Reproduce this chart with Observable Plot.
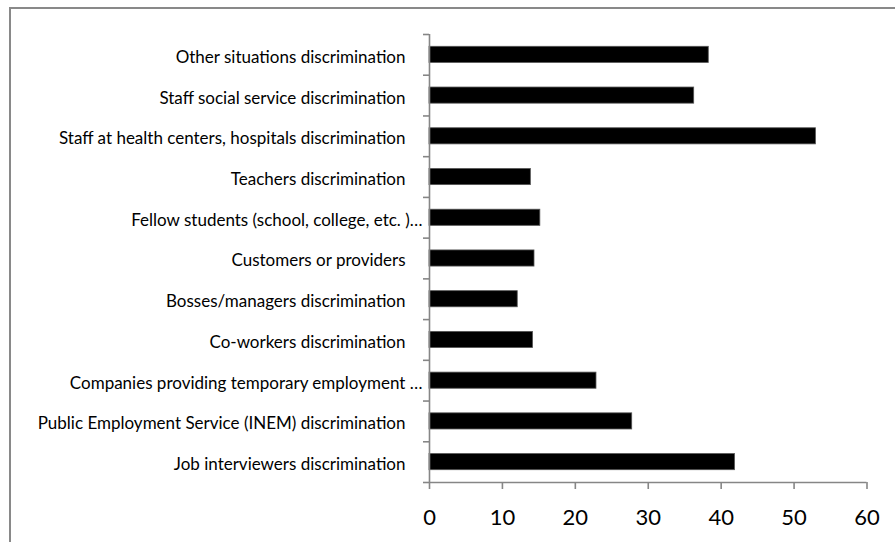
<!DOCTYPE html>
<html>
<head>
<meta charset="utf-8">
<script src="https://cdn.jsdelivr.net/npm/d3@7"></script>
<script src="https://cdn.jsdelivr.net/npm/@observablehq/plot@0.6"></script>
<style>
  html, body { margin: 0; padding: 0; background: #fff; }
  body { width: 895px; height: 542px; overflow: hidden; position: relative; }
  #frame { position: absolute; left: 9px; top: 7px; width: 900px; height: 600px;
           border-top: 2px solid #898989; border-left: 2px solid #898989; }
  #chart { position: absolute; left: 11px; top: 9px; }
  #chart svg { font-family: Lato, "Open Sans", sans-serif; }
</style>
</head>
<body>
<div id="frame"></div>
<div id="chart"></div>
<script>
// Categories, bottom to top
const categories = [
  "Job interviewers discrimination",
  "Public Employment Service (INEM) discrimination",
  "Companies providing temporary employment …",
  "Co-workers discrimination",
  "Bosses/managers discrimination",
  "Customers or providers",
  "Fellow students (school, college, etc. )…",
  "Teachers discrimination",
  "Staff at health centers, hospitals discrimination",
  "Staff social service discrimination",
  "Other situations discrimination"
];
const values = [41.9, 27.8, 22.9, 14.2, 12.1, 14.4, 15.2, 13.9, 53.0, 36.3, 38.3];
const xTicks = [0, 10, 20, 30, 40, 50, 60];

const data = categories.map((c, i) => ({category: c, value: values[i], i}));
const n = categories.length;

const axisColor = "#868686";

const chart = Plot.plot({
  width: 884,
  height: 533,
  marginLeft: 418,
  marginRight: 28.5,
  marginTop: 25,
  marginBottom: 60,
  x: {domain: [0, 60], label: null},
  y: {domain: [0, n], label: null},
  marks: [
    Plot.rectX(data, {
      x1: 0, x2: "value", y1: "i", y2: d => d.i + 1,
      insetTop: 12.3, insetBottom: 12.3,
      fill: "#000", stroke: "#555", strokeWidth: 0.8
    }),
    // category labels
    Plot.axisY({
      ticks: d3.range(n).map(i => i + 0.5),
      tickFormat: v => {
        const c = categories[Math.floor(v)];
        return c.endsWith("…") ? c : c + "\u2002\u2002";
      },
      tickSize: 0, tickPadding: 7,
      fontSize: 17, fill: "#000", dy: 2.5, label: null
    }),
    // y boundary ticks
    Plot.axisY({
      ticks: d3.range(n + 1), tickFormat: () => "", tickSize: 6,
      stroke: axisColor, strokeWidth: 1.6, strokeOpacity: 1, label: null
    }),
    Plot.ruleX([0], {stroke: axisColor, strokeWidth: 1.6}),
    Plot.axisX({
      ticks: xTicks, tickSize: 7, tickPadding: 20,
      stroke: axisColor, strokeWidth: 1.6, strokeOpacity: 1,
      fontSize: 22, fill: "#000", label: null
    }),
    Plot.ruleY([0], {stroke: axisColor, strokeWidth: 1.6})
  ]
});
document.getElementById("chart").appendChild(chart);
</script>
</body>
</html>
